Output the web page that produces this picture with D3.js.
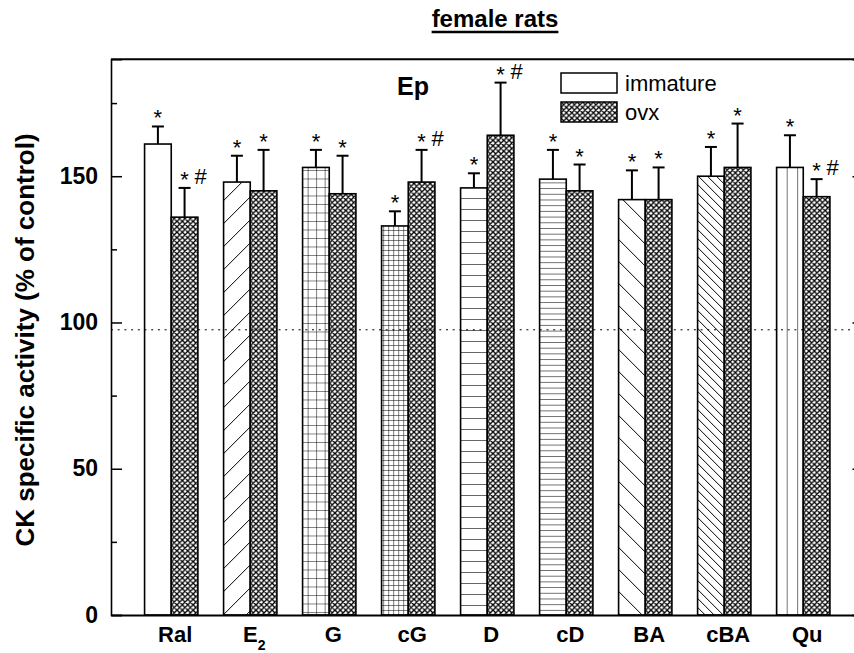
<!DOCTYPE html>
<html>
<head>
<meta charset="utf-8">
<script src="https://cdn.jsdelivr.net/npm/d3@7"></script>
<style>
  body { margin: 0; background: #fff; }
  svg { display: block; font-family: "Liberation Sans", Arial, sans-serif; }
</style>
</head>
<body>
<svg></svg>
<script>
// values
const categories = ["Ral", "E2", "G", "cG", "D", "cD", "BA", "cBA", "Qu"];
const series = ["immature", "ovx"];
const immature = [161, 148, 153, 133, 146, 149, 142, 150, 153];
const immatureErr = [6, 9, 6, 5, 5, 10, 10, 10, 11];
const ovx = [136, 145, 144, 148, 164, 145, 142, 153, 143];
const ovxErr = [10, 14, 13, 11, 18, 9, 11, 15, 6];
const immatureMarks = ["*", "*", "*", "*", "*", "*", "*", "*", "*"];
const ovxMarks = ["*#", "*", "*", "*#", "*#", "*", "*", "*", "*#"];
const immaturePatterns = ["none", "diagUp", "grid", "fineGrid", "hlines", "fineHlines", "diagDown", "fineDiagDown", "vlines"];
const majorTicks = [0, 50, 100, 150];
const minorTicks = [25, 75, 125, 175];
const controlLevel = 97.5;

var width = 854, height = 653;
var plotLeft = 111, plotRight = 863.5, plotTop = 59.2, plotBottom = 615;

var svg = d3.select("svg").attr("width", width).attr("height", height);

var x = d3.scaleBand()
    .domain(categories)
    .range([plotLeft, plotRight])
    .paddingInner(0.325)
    .paddingOuter(0.425);

var sub = d3.scaleBand()
    .domain(series)
    .range([0, x.bandwidth()]);

var y = d3.scaleLinear()
    .domain([0, 190])
    .range([plotBottom, plotTop]);

// fill patterns
var defs = svg.append("defs");

function pattern(id, size, x0) {
    return defs.append("pattern")
        .attr("id", id)
        .attr("patternUnits", "userSpaceOnUse")
        .attr("x", x0)
        .attr("y", 0)
        .attr("width", size)
        .attr("height", size);
}

function patternPath(p, d, sw) {
    p.append("rect").attr("width", "100%").attr("height", "100%").attr("fill", "#fff");
    p.append("path").attr("d", d).attr("stroke", "#000").attr("stroke-width", sw).attr("fill", "none");
}

function upDiag(s) {
    return "M0," + s + "L" + s + ",0M" + (-s / 4) + "," + (s / 4) + "L" + (s / 4) + "," + (-s / 4) +
        "M" + (3 * s / 4) + "," + (5 * s / 4) + "L" + (5 * s / 4) + "," + (3 * s / 4);
}
function downDiag(s) {
    return "M0,0L" + s + "," + s + "M" + (-s / 4) + "," + (3 * s / 4) + "L" + (s / 4) + "," + (5 * s / 4) +
        "M" + (3 * s / 4) + "," + (-s / 4) + "L" + (5 * s / 4) + "," + (s / 4);
}

var patternSpec = {
    diagUp: { size: 23, path: (s) => upDiag(s), sw: 1 },
    grid: { size: 8.5, path: (s) => "M0,0V" + s + "M0,0H" + s, sw: 1 },
    fineGrid: { size: 5, path: (s) => "M0,0V" + s + "M0,0H" + s, sw: 1 },
    hlines: { size: 11, path: (s) => "M0,0H" + s, sw: 1.2 },
    fineHlines: { size: 5.7, path: (s) => "M0,0H" + s, sw: 1.1 },
    diagDown: { size: 22, path: (s) => downDiag(s), sw: 1 },
    fineDiagDown: { size: 9, path: (s) => downDiag(s), sw: 1 },
    vlines: { size: 10.5, path: (s) => "M0,0V" + s, sw: 1.1 }
};

categories.forEach((c, i) => {
    var spec = patternSpec[immaturePatterns[i]];
    if (!spec) return;
    var p = pattern("pat-" + i, spec.size, x(c) + sub("immature"));
    patternPath(p, spec.path(spec.size), spec.sw);
});

var cross = pattern("cross", 5.4, 0);
patternPath(cross, upDiag(5.4) + downDiag(5.4), 1.3);

function immFill(i) {
    return immaturePatterns[i] === "none" ? "#fff" : "url(#pat-" + i + ")";
}

// bars
var rows = categories.map((c, i) => ({
    cat: c, idx: i,
    bars: [
        { key: "immature", value: immature[i], err: immatureErr[i], mark: immatureMarks[i], fill: immFill(i) },
        { key: "ovx", value: ovx[i], err: ovxErr[i], mark: ovxMarks[i], fill: "url(#cross)" }
    ]
}));

var groups = svg.append("g")
    .attr("class", "bars")
    .selectAll("g")
    .data(rows)
    .enter()
    .append("g")
    .attr("transform", (d) => "translate(" + x(d.cat) + ",0)");

var bar = groups.selectAll("g")
    .data((d) => d.bars)
    .enter()
    .append("g");

bar.append("rect")
    .attr("x", (d) => sub(d.key))
    .attr("y", (d) => y(d.value))
    .attr("width", sub.bandwidth())
    .attr("height", (d) => y(0) - y(d.value))
    .attr("fill", (d) => d.fill)
    .attr("stroke", "#000")
    .attr("stroke-width", 1.6);

// error bars (upper half only)
var cx = (d) => sub(d.key) + sub.bandwidth() / 2;
bar.append("line")
    .attr("x1", cx).attr("x2", cx)
    .attr("y1", (d) => y(d.value))
    .attr("y2", (d) => y(d.value + d.err))
    .attr("stroke", "#000").attr("stroke-width", 2);
bar.append("line")
    .attr("x1", (d) => cx(d) - 6).attr("x2", (d) => cx(d) + 6)
    .attr("y1", (d) => y(d.value + d.err))
    .attr("y2", (d) => y(d.value + d.err))
    .attr("stroke", "#000").attr("stroke-width", 2);

// significance marks
bar.append("text")
    .attr("x", cx)
    .attr("y", (d) => y(d.value + d.err) - 1)
    .attr("text-anchor", "middle")
    .style("font-size", "22px")
    .text("*");
bar.filter((d) => d.mark.indexOf("#") >= 0)
    .append("text")
    .attr("x", (d) => cx(d) + 16)
    .attr("y", (d) => y(d.value + d.err) - 4)
    .attr("text-anchor", "middle")
    .style("font-size", "22px")
    .text("#");

// control reference line
svg.append("line")
    .attr("x1", plotLeft).attr("x2", plotRight)
    .attr("y1", y(controlLevel)).attr("y2", y(controlLevel))
    .attr("stroke", "#000").attr("stroke-width", 1)
    .attr("stroke-dasharray", "2,4.7");

// axes
function styleAxis(g) {
    g.attr("font-size", null).attr("font-family", null);
    g.selectAll("path.domain").attr("stroke", "#000").attr("stroke-width", 1.6);
    g.selectAll(".tick line").attr("stroke", "#000").attr("stroke-width", 1.5);
}

svg.append("g")
    .attr("transform", "translate(" + plotLeft + ",0)")
    .call(d3.axisLeft(y).tickValues(majorTicks).tickSize(-11).tickFormat(""))
    .call(styleAxis);

svg.append("g")
    .attr("transform", "translate(" + plotLeft + ",0)")
    .call(d3.axisLeft(y).tickValues(minorTicks).tickSize(-6).tickFormat(""))
    .call(styleAxis)
    .call((g) => g.select(".domain").remove());

// tick labels
svg.append("g")
    .selectAll("text")
    .data(majorTicks)
    .enter()
    .append("text")
    .attr("x", plotLeft - 13)
    .attr("y", (d) => y(d) + 7.5)
    .attr("text-anchor", "end")
    .style("font-size", "23px")
    .style("font-weight", "bold")
    .text((d) => d);

svg.append("g")
    .attr("transform", "translate(" + plotRight + ",0)")
    .call(d3.axisRight(y).tickValues(majorTicks).tickSize(-11).tickFormat(""))
    .call(styleAxis);

svg.append("g")
    .attr("transform", "translate(" + plotRight + ",0)")
    .call(d3.axisRight(y).tickValues(minorTicks).tickSize(-6).tickFormat(""))
    .call(styleAxis)
    .call((g) => g.select(".domain").remove());

svg.append("g")
    .attr("transform", "translate(0," + plotBottom + ")")
    .call(d3.axisBottom(x).tickSize(0).tickFormat(""))
    .call(styleAxis)
    .call((g) => g.select(".domain").attr("stroke-width", 2));

svg.append("line")
    .attr("x1", plotLeft).attr("x2", plotRight)
    .attr("y1", plotTop).attr("y2", plotTop)
    .attr("stroke", "#000").attr("stroke-width", 2);

// category labels
var catLabels = svg.append("g")
    .selectAll("text")
    .data(categories)
    .enter()
    .append("text")
    .attr("x", (d) => x(d) + x.bandwidth() / 2 + 4)
    .attr("y", plotBottom + 27)
    .attr("text-anchor", "middle")
    .style("font-size", "22px")
    .style("font-weight", "bold");

catLabels.each(function(d) {
    var t = d3.select(this);
    if (d === "E2") {
        t.append("tspan").text("E");
        t.append("tspan").attr("dy", 8).style("font-size", "14px").text("2");
    } else {
        t.text(d);
    }
});

// y title
svg.append("text")
    .attr("transform", "translate(34,340) rotate(-90)")
    .attr("text-anchor", "middle")
    .style("font-size", "26px")
    .style("font-weight", "bold")
    .text("CK specific activity (% of control)");

// chart title, underlined
var title = svg.append("text")
    .attr("x", 495)
    .attr("y", 27)
    .attr("text-anchor", "middle")
    .style("font-size", "24px")
    .style("font-weight", "bold")
    .text("female rats");
var tw = title.node().getComputedTextLength();
svg.append("line")
    .attr("x1", 495 - tw / 2).attr("x2", 495 + tw / 2)
    .attr("y1", 32).attr("y2", 32)
    .attr("stroke", "#000").attr("stroke-width", 2.5);

// panel label
svg.append("text")
    .attr("x", 397)
    .attr("y", 95)
    .style("font-size", "25px")
    .style("font-weight", "bold")
    .text("Ep");

// legend
var legend = svg.append("g")
    .attr("transform", "translate(561,73)")
    .selectAll("g")
    .data(series)
    .enter()
    .append("g")
    .attr("transform", (d, i) => "translate(0," + (i * 29) + ")");

legend.append("rect")
    .attr("width", 56)
    .attr("height", 20)
    .attr("fill", (d) => d === "ovx" ? "url(#cross)" : "#fff")
    .attr("stroke", "#000")
    .attr("stroke-width", 1.5);

legend.append("text")
    .attr("x", 64)
    .attr("y", 18)
    .style("font-size", "22px")
    .text((d) => d);
</script>
</body>
</html>
